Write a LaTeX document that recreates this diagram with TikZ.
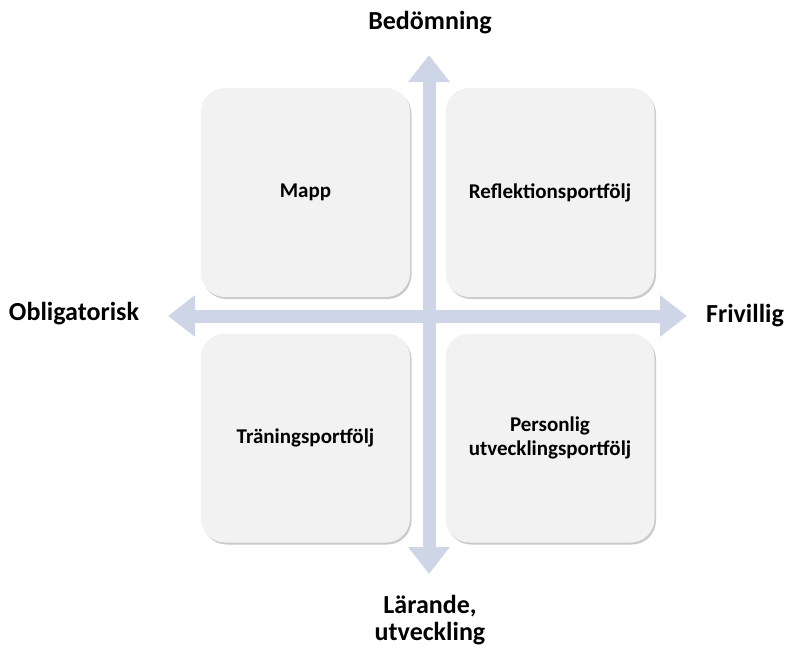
\documentclass[tikz,border=0pt]{standalone}
\usepackage{fontspec}
\setmainfont{Carlito}
\usetikzlibrary{arrows.meta,shadows}
\definecolor{boxfill}{HTML}{F2F2F2}
\definecolor{arrowfill}{HTML}{CDD5E6}
\tikzset{
  quad/.style={rounded corners=24pt, fill=boxfill, minimum width=209pt, minimum height=209pt,
    draw=none, inner sep=0pt, align=center, font=\bfseries\fontsize{21}{24}\selectfont,
    drop shadow={shadow xshift=1.5pt, shadow yshift=-2pt, opacity=0.35, fill=black!60}},
  axis/.style={line width=13pt, draw=arrowfill,
    {Triangle[length=27pt,width=40pt,fill=arrowfill]}-{Triangle[length=27pt,width=40pt,fill=arrowfill]}},
  axlabel/.style={font=\bfseries\fontsize{26}{27}\selectfont, align=center, inner sep=0pt}
}
\begin{document}
\begin{tikzpicture}[x=1pt,y=1pt]
\useasboundingbox (0,0) rectangle (790,-648);
\coordinate (ttip) at (429,-55);
\coordinate (btip) at (429,-574);
\coordinate (ltip) at (168,-316);
\coordinate (rtip) at (687,-316);
\draw[axis] (btip) -- (ttip);
\draw[axis] (ltip) -- (rtip);
\node[quad] (mapp) at (305.5,-192.5) {Mapp};
\node[quad] (refl) at (550,-192.5) {Reflektionsportfölj};
\node[quad] (tran) at (305.5,-438) {Träningsportfölj};
\node[quad] (pers) at (550,-438) {Personlig\\utvecklingsportfölj};
\node[axlabel] (bed) at (430,-23) {Bedömning};
\node[axlabel] (obl) at (74,-314) {Obligatorisk};
\node[axlabel] (fri) at (745,-316) {Frivillig};
\node[axlabel] (lar) at (430,-620) {Lärande,\\utveckling};
\end{tikzpicture}
\end{document}
